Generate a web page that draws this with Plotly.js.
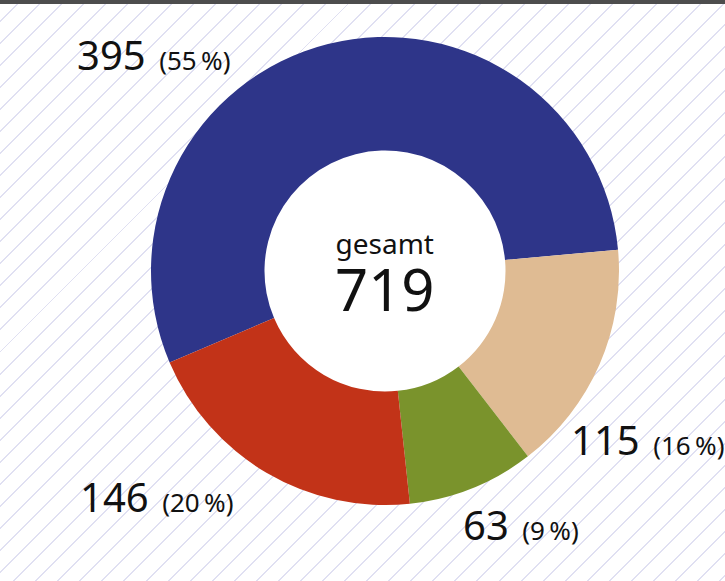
<!DOCTYPE html>
<html>
<head>
<meta charset="utf-8">
<script src="https://cdn.plot.ly/plotly-3.0.1.min.js"></script>
<style>
  html, body { margin: 0; padding: 0; background: #ffffff; }
  #wrap {
    position: relative; width: 725px; height: 581px; overflow: hidden;
    background: repeating-linear-gradient(135deg, #ffffff 0px, #ffffff 14.2px, #e0e0f2 14.2px, #e0e0f2 15.6px);
  }
  #topbar { position: absolute; left: 0; top: 0; width: 725px; height: 4px; background: #4d4d4d; z-index: 5; }
  #chart { position: absolute; left: 0; top: 0; width: 725px; height: 581px; }
</style>
</head>
<body>
<div id="wrap"><div id="topbar"></div><div id="chart"></div></div>
<script>
// Data
var categories = ["A", "B", "C", "D"];
var values = [395, 115, 63, 146];
var percents = [55, 16, 9, 20];
var colors = ["#2e3589", "#dfbb93", "#7a932c", "#c23318"];
var totalLabel = "gesamt";
var total = 719;

// Label positions (paper coords) for outside labels
var labelPos = [
  {x: 75 / 725, y: 1 - 54 / 581},
  {x: 569 / 725, y: 1 - 439 / 581},
  {x: 461 / 725, y: 1 - 524 / 581},
  {x: 78 / 725, y: 1 - 496 / 581}
];

var font = "'Noto Sans', 'Open Sans', sans-serif";

var trace = {
  type: "pie",
  labels: categories,
  values: values,
  sort: false,
  direction: "clockwise",
  rotation: -113,
  hole: 0.515,
  marker: { colors: colors, line: { width: 0 } },
  textinfo: "none",
  hoverinfo: "none",
  showlegend: false,
  domain: { x: [150 / 725, 620 / 725], y: [1 - 505 / 581, 1 - 37 / 581] }
};

var annotations = [];
for (var i = 0; i < values.length; i++) {
  annotations.push({
    xref: "paper", yref: "paper",
    x: labelPos[i].x, y: labelPos[i].y,
    xanchor: "left", yanchor: "middle",
    showarrow: false,
    text: "<span style='font-size:40px'>" + values[i] + "</span>\u00a0 <span style='font-size:26px'>(" + percents[i] + "\u2009%)</span>",
    font: { family: font, color: "#111111", size: 26 }
  });
}
annotations.push({
  xref: "paper", yref: "paper", x: 385 / 725, y: 1 - 276 / 581,
  xanchor: "center", yanchor: "middle", showarrow: false,
  text: "<span style='font-size:28px'>" + totalLabel + "</span><br><span style='font-size:58px'>" + total + "</span>",
  font: { family: font, color: "#111111", size: 44 }
});

var layout = {
  width: 725, height: 581,
  margin: { l: 0, r: 0, t: 0, b: 0 },
  paper_bgcolor: "rgba(0,0,0,0)",
  plot_bgcolor: "rgba(0,0,0,0)",
  annotations: annotations,
  shapes: [{
    type: "circle", xref: "paper", yref: "paper", layer: "below",
    x0: (385 - 122) / 725, x1: (385 + 122) / 725,
    y0: 1 - (270 + 122) / 581, y1: 1 - (270 - 122) / 581,
    fillcolor: "#ffffff", line: { width: 0 }
  }]
};

Plotly.newPlot("chart", [trace], layout, { displayModeBar: false, staticPlot: true });
</script>
</body>
</html>
